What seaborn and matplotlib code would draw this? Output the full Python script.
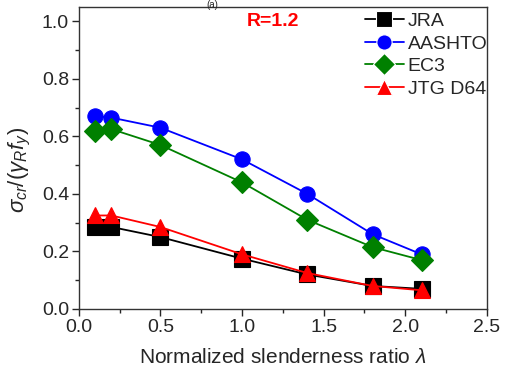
import numpy as np
import pandas as pd
import matplotlib
matplotlib.use('Agg')
import matplotlib.pyplot as plt
import seaborn as sns
from matplotlib.ticker import MultipleLocator

lam = [0.1, 0.2, 0.5, 1.0, 1.4, 1.8, 2.1]
jra = [0.285, 0.285, 0.25, 0.175, 0.12, 0.08, 0.07]
aashto = [0.67, 0.665, 0.63, 0.52, 0.40, 0.26, 0.19]
ec3 = [0.62, 0.625, 0.57, 0.44, 0.31, 0.215, 0.17]
jtg = [0.325, 0.325, 0.285, 0.19, 0.125, 0.08, 0.065]

names = ['JRA', 'AASHTO', 'EC3', 'JTG D64']
colors = ['black', 'blue', 'green', 'red']
markers = ['s', 'o', 'D', '^']

df = pd.DataFrame({'lam': lam * 4,
                   'val': jra + aashto + ec3 + jtg,
                   'code': sum([[n] * len(lam) for n in names], [])})

sns.set_style('ticks')
plt.rcParams['font.family'] = ['Liberation Sans', 'DejaVu Sans']
plt.rcParams['mathtext.fontset'] = 'custom'
plt.rcParams['mathtext.it'] = 'Liberation Sans:italic'
plt.rcParams['mathtext.rm'] = 'Liberation Sans'

fig = plt.figure(figsize=(5.05, 3.81), dpi=100)
ax = fig.add_axes([0.156, 0.189, 0.808, 0.793])

sns.lineplot(data=df, x='lam', y='val', hue='code', style='code',
             palette=colors, markers=markers, dashes=False,
             markersize=11, markeredgewidth=0.8, linewidth=1.3, ax=ax)
for line, c in zip(ax.lines, colors):
    line.set_markeredgecolor(c)

ax.set_xlim(0, 2.5)
ax.set_ylim(0, 1.05)
ax.xaxis.set_major_locator(MultipleLocator(0.5))
ax.xaxis.set_minor_locator(MultipleLocator(0.25))
ax.yaxis.set_major_locator(MultipleLocator(0.2))
ax.yaxis.set_minor_locator(MultipleLocator(0.1))
ax.tick_params(which='major', labelsize=14, length=5, width=1, pad=2)
ax.tick_params(which='minor', length=3, width=1)
for s in ax.spines.values():
    s.set_linewidth(1.0)
    s.set_color('#333333')

ax.set_xlabel(r'Normalized slenderness ratio $\lambda$', fontsize=15, labelpad=9)
ax.set_ylabel(r'$\sigma_{cr}/(\gamma_R f_y)$', fontsize=16)
ax.yaxis.set_label_coords(-0.113, 0.46)

ax.text(0.475, 0.953, 'R=1.2', color='red', fontweight='bold', fontsize=14,
        transform=ax.transAxes, ha='center', va='center')
fig.text(0.42, 0.999, '(a)', fontsize=7, ha='center', va='top')

ax.legend(frameon=False, fontsize=14, loc='upper right', bbox_to_anchor=(1.03, 1.02),
          handlelength=2.0, handletextpad=0.2, labelspacing=0.25, borderaxespad=0.2)

fig.savefig('out.png', dpi=100)
